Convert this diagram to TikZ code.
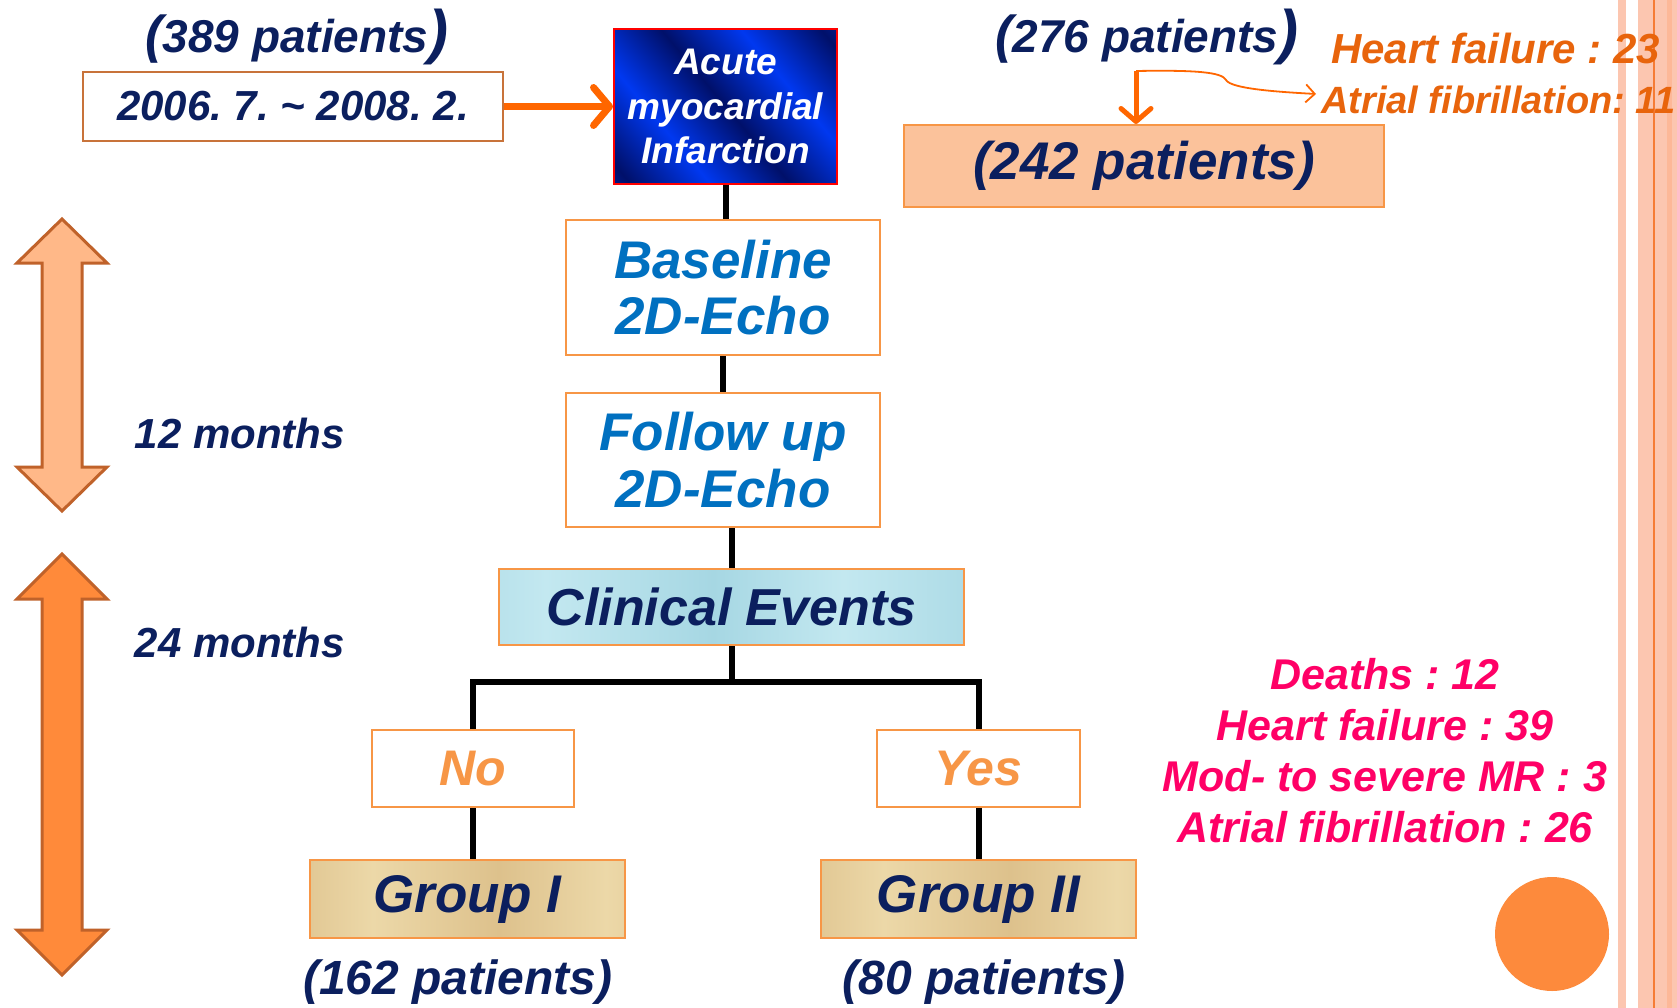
\documentclass[tikz,border=0pt]{standalone}
\usepackage{fontspec}
\setmainfont{Liberation Sans}
\usetikzlibrary{arrows.meta}
\frenchspacing
\definecolor{navy}{HTML}{0B1F5E}
\definecolor{ebl}{HTML}{0070C0}
\definecolor{boxor}{HTML}{F79646}
\definecolor{datebd}{HTML}{C8733A}
\definecolor{arrowor}{HTML}{FF6600}
\definecolor{hfor}{HTML}{E8640C}
\definecolor{pinkc}{HTML}{FF0066}
\definecolor{peach}{HTML}{FBC29B}
\definecolor{arrbd}{HTML}{C0622A}
\definecolor{arrlt}{HTML}{FFB888}
\definecolor{arrdk}{HTML}{FF8A3A}
\definecolor{stripec}{HTML}{FCC6B0}
\definecolor{stripeb}{HTML}{FDB898}
\definecolor{stripel}{HTML}{F57C36}
\definecolor{circor}{HTML}{FD8A3C}
\definecolor{amiA}{HTML}{00106A}
\definecolor{amiB}{HTML}{0038F0}
\definecolor{wA}{HTML}{C3E8F0}
\definecolor{wB}{HTML}{A6D7E3}
\definecolor{pA}{HTML}{ECD8A8}
\definecolor{pB}{HTML}{DDC18C}
\pgfdeclarehorizontalshading{amishade}{100bp}{color(0bp)=(amiB); color(18bp)=(amiA); color(34bp)=(amiB); color(50bp)=(amiA); color(66bp)=(amiB); color(82bp)=(amiA); color(100bp)=(amiB)}
\pgfdeclarehorizontalshading{watershade}{100bp}{color(0bp)=(wA); color(15bp)=(wB); color(30bp)=(wA); color(48bp)=(wB); color(62bp)=(wA); color(80bp)=(wB); color(100bp)=(wA)}
\pgfdeclarehorizontalshading{papyrus}{100bp}{color(0bp)=(pA); color(20bp)=(pB); color(35bp)=(pA); color(55bp)=(pB); color(72bp)=(pA); color(88bp)=(pB); color(100bp)=(pA)}
\newcommand\fb[2]{\bfseries\itshape\fontsize{#1}{#2}\selectfont}
\begin{document}
\begin{tikzpicture}[x=1pt,y=-1pt,
  every node/.style={inner sep=0pt},
  wbox/.style={draw=boxor, line width=2pt, fill=white},
  conn/.style={line width=6pt, black},
  bigarrow/.style={draw=arrbd, line width=3pt, line join=miter}]
\useasboundingbox[fill=white] (0,0) rectangle (1677,1008);

% right stripes (behind text)
\fill[stripec] (1618,0) rectangle (1626,1008);
\fill[stripec] (1638,0) rectangle (1677,1008);
\fill[stripeb] (1667,0) rectangle (1672,1008);
\draw[stripel, line width=1.5pt] (1654,0) -- (1654,1008);

% left double arrows
\path[bigarrow, fill=arrlt] (62,219) -- (107,263) -- (82,263) -- (82,467) -- (107,467) -- (62,511) -- (17,467) -- (42,467) -- (42,263) -- (17,263) -- cycle;
\path[bigarrow, fill=arrdk] (62,554) -- (107,599) -- (82,599) -- (82,930) -- (107,930) -- (62,975) -- (17,930) -- (42,930) -- (42,599) -- (17,599) -- cycle;
\node[text=navy, font=\fb{42}{44}] (m12) at (240,433) {12 months};
\node[text=navy, font=\fb{42}{44}] (m24) at (240,642) {24 months};

% top row
\node[text=navy, font=\fb{46}{48}] (p389) at (297,37) {{\fontsize{52}{52}\selectfont(}389 patients{\fontsize{60}{60}\selectfont)}};
\node[wbox, draw=datebd, minimum width=420pt, minimum height=69pt, text=navy, font=\fb{42}{44}] (date) at (293,106.5) {2006. 7. \textasciitilde{} 2008. 2.};
\node[shade, shading=amishade, shading angle=40, draw=red, line width=2pt, minimum width=223pt, minimum height=155pt, text=white, align=center, font=\fb{37}{44.5}] (ami) at (725.5,106.5) {Acute\\myocardial\\Infarction};
\draw[line width=7pt, arrowor, -{Straight Barb[length=16pt,width=38pt,round]}] (date.east) -- (ami.west);

\node[text=navy, font=\fb{46}{48}] (p276) at (1147,37) {{\fontsize{52}{52}\selectfont(}276 patients{\fontsize{60}{60}\selectfont)}};
\node[text=hfor, anchor=west, font=\fb{42}{44}] (hf23) at (1331,48) {Heart failure : 23};
\node[text=hfor, anchor=west, font=\fb{38}{40}] (af11) at (1321,100) {Atrial fibrillation: 11};
\node[draw=boxor, line width=2pt, fill=peach, minimum width=480pt, minimum height=82pt, text=navy, font=\fb{53}{56}] (b242) at (1144,166) {(242 patients)};
\coordinate (j) at (1136,71);
\coordinate (brend) at (1316,94);
\draw[line width=5pt, arrowor, -{Straight Barb[length=13pt,width=30pt,round]}] (j) -- (j |- b242.north);
\draw[line width=1.8pt, arrowor, -{Straight Barb[length=9pt,width=18pt]}] (j) .. controls (1195,70) and (1222,72) .. (1226,80) .. controls (1231,89) and (1280,92) .. (brend);

% main column
\node[wbox, minimum width=314pt, minimum height=135pt, text=ebl, align=center, font=\fb{53}{56}] (base) at (723,287.5) {Baseline\\2D-Echo};
\node[wbox, minimum width=314pt, minimum height=134pt, text=ebl, align=center, font=\fb{53}{57}] (fol) at (723,460) {Follow up\\2D-Echo};
\node[shade, shading=watershade, draw=boxor, line width=2pt, minimum width=465pt, minimum height=76pt, text=navy, font=\fb{52}{54}] (clin) at (731.5,607) {Clinical Events};
\node[wbox, minimum width=202pt, minimum height=77pt, text=boxor, font=\fb{50}{52}] (no) at (473,768.5) {No};
\node[wbox, minimum width=203pt, minimum height=77pt, text=boxor, font=\fb{50}{52}] (yes) at (978.5,768.5) {Yes};
\node[shade, shading=papyrus, draw=boxor, line width=2pt, minimum width=315pt, minimum height=78pt, text=navy, font=\fb{53}{55}] (g1) at (467.5,899) {Group I};
\node[shade, shading=papyrus, draw=boxor, line width=2pt, minimum width=315pt, minimum height=78pt, text=navy, font=\fb{53}{55}] (g2) at (978.5,899) {Group II};
\node[text=navy, font=\fb{48}{50}] (p162) at (458,982) {(162 patients)};
\node[text=navy, font=\fb{48}{50}] (p80) at (984,982) {(80 patients)};

% connectors
\draw[conn] (ami.south) -- (ami.south |- base.north);
\draw[conn] (base.south) -- (base.south |- fol.north);
\draw[conn] (clin.north |- fol.south) -- (clin.north);
\coordinate (split) at (731.5,682);
\draw[conn] (clin.south) -- (split);
\draw[conn, line join=miter] (no.north) -- (no.north |- split) -- (yes.north |- split) -- (yes.north);
\draw[conn] (no.south) -- (no.south |- g1.north);
\draw[conn] (yes.south) -- (yes.south |- g2.north);

% events list
\node[text=pinkc, align=center, font=\fb{43}{51}] (events) at (1385,750.5) {Deaths : 12\\Heart failure : 39\\Mod- to severe MR : 3\\Atrial fibrillation : 26};

% decoration
\fill[circor] (1552,934) circle[radius=57];
\end{tikzpicture}
\end{document}
